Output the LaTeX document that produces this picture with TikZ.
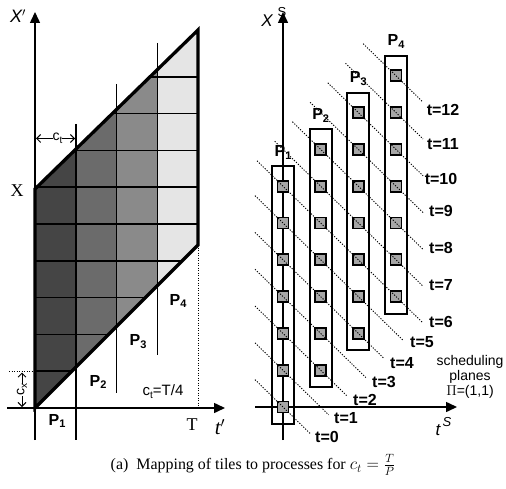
\documentclass[tikz,border=0pt]{standalone}
\usepackage{fontspec}
\setmainfont{Liberation Serif}
\setsansfont{Liberation Sans}
\usetikzlibrary{arrows.meta}
\DeclareMathSizes{16}{16}{12.5}{10}
\definecolor{colA}{gray}{0.27}
\definecolor{colB}{gray}{0.42}
\definecolor{colC}{gray}{0.54}
\definecolor{colD}{gray}{0.90}
\definecolor{tilegray}{gray}{0.65}
\newcommand\Plab[1]{P\raisebox{-0.35ex}{\fontsize{11bp}{12bp}\selectfont #1}}
\newcommand\cSub[1]{c\raisebox{-0.4ex}{\fontsize{10bp}{11bp}\selectfont #1}}
\tikzset{
  axisline/.style={line width=1.5bp, -{Triangle[length=11bp,width=10bp]}},
  gridline/.style={line width=1.5bp},
  outline/.style={line width=3.3bp, line join=miter},
  dotline/.style={line width=1bp, dash pattern=on 1.2bp off 1.3bp},
  sched/.style={line width=0.9bp, dash pattern=on 1.2bp off 1.5bp},
  tile/.style={draw, line width=1.7bp, fill=tilegray, minimum size=11bp, inner sep=0pt},
  pbox/.style={line width=2bp},
  tlab/.style={font=\fontsize{16bp}{18bp}\selectfont\sffamily\bfseries, inner sep=0pt},
  plab/.style={font=\fontsize{16bp}{18bp}\selectfont\sffamily\bfseries, inner sep=0pt},
  sflab/.style={font=\fontsize{14bp}{16bp}\selectfont\sffamily, inner sep=0pt},
  rmlab/.style={font=\fontsize{18bp}{20bp}\selectfont, inner sep=0pt},
  dblarrow/.style={line width=0.9bp, {Straight Barb[length=4bp,width=8bp]}-{Straight Barb[length=4bp,width=8bp]}},
}
\begin{document}
\begin{tikzpicture}[x=1bp,y=-1bp]
\useasboundingbox (0,0) rectangle (506,489);
\fill[white] (0,0) rectangle (506,489);

% ---------------- left panel ----------------
\coordinate (pA) at (35,408);
\coordinate (pB) at (198,245);
\coordinate (pC) at (198,30);
\coordinate (pD) at (35,189);
\begin{scope}
  \clip (pA) -- (pB) -- (pC) -- (pD) -- cycle;
  \fill[colA] (35,0) rectangle (75.75,489);
  \fill[colB] (75.75,0) rectangle (116.5,489);
  \fill[colC] (116.5,0) rectangle (157.25,489);
  \fill[colD] (157.25,0) rectangle (198,489);
  \foreach \k in {1,...,9} \draw[gridline] (30,{408-36.8*\k}) -- (205,{408-36.8*\k});
\end{scope}
% column separators (with extensions)
\draw[gridline] (75.75,124) -- (75.75,440);
\draw[gridline] (116.5,84) -- (116.5,393);
\draw[gridline] (157.25,43) -- (157.25,355);
% axes
\draw[gridline] (35,440) -- (35,408);
\coordinate (yTop) at (35,12);
\coordinate (xEnd) at (225,408);
\coordinate (xStart) at (7,408);
\draw[axisline] (35,408) -- (yTop);
\draw[axisline] (xStart) -- (xEnd);
% outline
\draw[outline] (pD) -- (pC) -- (pB) -- (pA) -- cycle;
% dotted T marker
\coordinate (Tfoot) at (198,408);
\draw[dotline] (pB) -- (Tfoot);
% c_x marker
\coordinate (cxL) at (9,371.2);
\coordinate (cxR) at (34,371.2);
\draw[dotline] (cxL) -- (cxR);
\draw[dblarrow] (22,372.5) -- (22,407) node[midway, fill=white, inner sep=0.5bp, rotate=90, sflab] {\cSub{x}};
% c_t marker
\draw[dblarrow] (36,138.5) -- (75,138.5) node[pos=0.55, fill=white, inner sep=0.5bp, sflab] {\cSub{t}};
% labels
\node[font=\fontsize{18bp}{20bp}\selectfont\sffamily\itshape, inner sep=0pt] (lXp) at (18,16) {X$'$};
\node[rmlab] (lX) at (17,191) {X};
\node[rmlab] (lT) at (192,425) {T};
\node[font=\fontsize{21bp}{22bp}\selectfont\itshape, inner sep=0pt] (ltp) at (220,427) {t$'$};
\node[plab] (lP1) at (57,421) {\Plab{1}};
\node[plab] (lP2) at (98,382) {\Plab{2}};
\node[plab] (lP3) at (138,342) {\Plab{3}};
\node[plab] (lP4) at (178,301) {\Plab{4}};
\node[font=\fontsize{15bp}{16bp}\selectfont\sffamily, inner sep=0pt] (lct) at (163,392) {\cSub{t}=T/4};

% ---------------- right panel ----------------
\coordinate (ryTop) at (283,12);
\coordinate (rxEnd) at (457,407);
\draw[axisline] (283,440) -- (ryTop);
\draw[axisline] (255,407) -- (rxEnd);
\node[font=\fontsize{17bp}{18bp}\selectfont\sffamily\itshape, inner sep=0pt] (lXS) at (267,21) {X};
\node[font=\fontsize{13bp}{14bp}\selectfont\sffamily, inner sep=0pt] (lXSs) at (282,12) {S};
\node[font=\fontsize{17bp}{18bp}\selectfont\sffamily\itshape, inner sep=0pt] (ltS) at (438,430) {t};
\node[font=\fontsize{13bp}{14bp}\selectfont\sffamily\itshape, inner sep=0pt] (ltSs) at (447,422) {S};

% process boxes
\foreach \i in {0,...,3} {
  \pgfmathsetmacro\cx{283+37.67*\i}
  \pgfmathsetmacro\top{407-36.8*(\i+6)-20}
  \pgfmathsetmacro\bot{407-36.8*\i+17}
  \draw[pbox] (\cx-11,\top) rectangle (\cx+11,\bot);
  \pgfmathtruncatemacro\pn{\i+1}
  \node[plab] (rP\pn) at (\cx,\top-14) {\Plab{\pn}};
}
% tiles
\foreach \i in {0,...,3} {
  \foreach \j in {0,...,6} {
    \pgfmathsetmacro\tx{283+37.67*\i}
    \pgfmathsetmacro\ty{407-36.8*(\i+\j)}
    \node[tile] (tile-\i-\j) at (\tx,\ty) {};
  }
}
% scheduling lines
\foreach \t/\lx/\ly in {0/327/437,1/346/418,2/365/400,3/384/382,4/402/363,5/422/342,
                        6/441/322,7/441/285,8/441/248,9/441/211,10/441/179,11/443/144,12/443/110} {
  \pgfmathsetmacro\xs{\t<6 ? 255 : 257+17.7*(\t-6)}
  \pgfmathsetmacro\xe{\t<6 ? 310+18.6*\t : 423}
  \pgfmathsetmacro\ys{407-36.8*\t+(\xs-283)*0.9769}
  \pgfmathsetmacro\ye{407-36.8*\t+(\xe-283)*0.9769}
  \coordinate (ss\t) at (\xs,\ys);
  \coordinate (se\t) at (\xe,\ye);
  \draw[sched] (ss\t) -- (se\t);
  \node[tlab] (tl\t) at (\lx,\ly) {t=\t};
}
\node[sflab, align=center] (lsched) at (470,377) {scheduling\\[-1bp]planes\\[-1bp]$\Pi$=(1,1)};

% caption
\node[font=\fontsize{16}{19}\selectfont, inner sep=0pt] (cap) at (253,465) {(a)\ \ Mapping of tiles to processes for $c_t = \frac{T}{P}$};
\end{tikzpicture}
\end{document}
